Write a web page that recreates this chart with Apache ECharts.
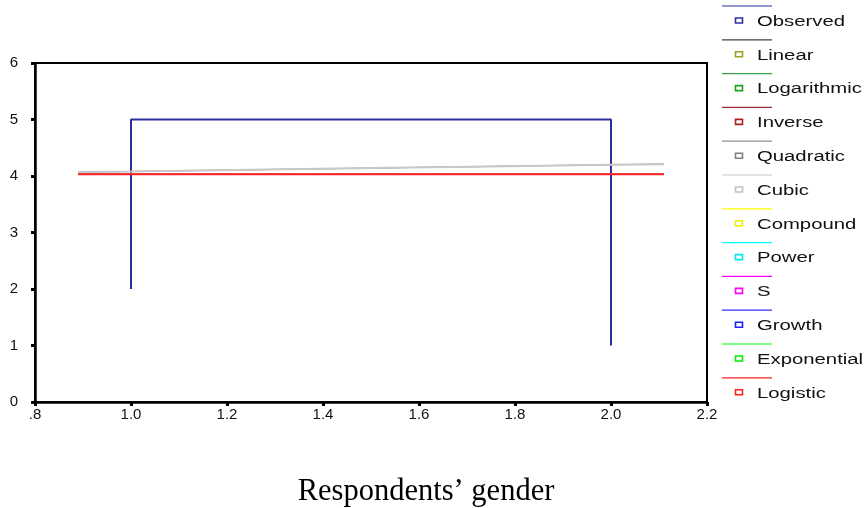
<!DOCTYPE html>
<html>
<head>
<meta charset="utf-8">
<script src="https://cdn.jsdelivr.net/npm/echarts@6/dist/echarts.min.js"></script>
<style>
  html, body { margin: 0; padding: 0; background: #fff; }
  #chart { width: 866px; height: 508px; }
</style>
</head>
<body>
<div id="chart"></div>
<script>
// data
const observedX = [1.0, 1.0, 2.0, 2.0]
const observedY = [2, 5, 5, 1]
const fitX = [0.89, 1.0, 1.25, 1.5, 1.75, 2.0, 2.11]
const cubicY = [4.07, 4.08, 4.11, 4.14, 4.17, 4.2, 4.21]
const logisticY = [4.03, 4.03, 4.03, 4.03, 4.03, 4.03, 4.03]
const xTicks = [0.8, 1.0, 1.2, 1.4, 1.6, 1.8, 2.0, 2.2]
const yTicks = [0, 1, 2, 3, 4, 5, 6]

const names = ['Observed', 'Linear', 'Logarithmic', 'Inverse', 'Quadratic', 'Cubic',
  'Compound', 'Power', 'S', 'Growth', 'Exponential', 'Logistic']
const lineColors = ['#2e2e9e', '#404040', '#40a040', '#a03030', '#909090', '#c8c8c8',
  '#ffff00', '#00ffff', '#ff00ff', '#3030ff', '#00ff00', '#ff2020']
const markColors = ['#2e2e9e', '#a0a020', '#20a020', '#b02020', '#808080', '#c0c0c0',
  '#f0f000', '#00e8f0', '#ff00ff', '#2020ff', '#00ee00', '#ff2020']

// which fitted values each curve sits on (they overlap in the picture)
const fitValues = {
  Linear: cubicY, Logarithmic: logisticY, Inverse: logisticY, Quadratic: cubicY, Cubic: cubicY,
  Compound: logisticY, Power: logisticY, S: logisticY, Growth: logisticY,
  Exponential: logisticY, Logistic: logisticY
}
// only the topmost curves are visible, the rest sit underneath
const visibleCurves = ['Observed', 'Cubic', 'Logistic']

const zip = (xs, ys) => xs.map((x, i) => [x, ys[i]])

const series = names.map((name, i) => ({
  name,
  type: 'line',
  data: name === 'Observed' ? zip(observedX, observedY) : zip(fitX, fitValues[name]),
  showSymbol: false,
  silent: true,
  lineStyle: { color: lineColors[i], width: visibleCurves.includes(name) ? 2 : 0.8 },
  itemStyle: { color: lineColors[i] }
}))

// legend drawn by hand: colored line, hollow square, stretched label
const legendY = 20.5
const legendStep = 33.8
const graphics = []
names.forEach((name, i) => {
  const y = legendY + i * legendStep
  graphics.push({
    type: 'line',
    shape: { x1: 722, y1: y - 14.5, x2: 772, y2: y - 14.5 },
    style: { stroke: lineColors[i], lineWidth: 1.2 }
  })
  graphics.push({
    type: 'rect',
    shape: { x: 735.5, y: y - 2.5, width: 7, height: 5 },
    style: { fill: '#fff', stroke: markColors[i], lineWidth: 1.6 }
  })
  graphics.push({
    type: 'text',
    x: 757,
    y: y + 1.5,
    scaleX: 1.45,
    style: {
      text: name,
      fill: '#111',
      font: '14px "Liberation Sans", Arial',
      verticalAlign: 'middle'
    }
  })
})

const labelFont = { fontFamily: '"Liberation Sans", Arial, sans-serif', fontSize: 15, color: '#111' }

const chart = echarts.init(document.getElementById('chart'))
chart.setOption({
  animation: false,
  backgroundColor: '#fff',
  grid: {
    left: 35, top: 63, width: 672, height: 339,
    outerBoundsMode: 'none',
    show: true, borderColor: '#000', borderWidth: 2
  },
  xAxis: {
    type: 'value',
    min: 0.8,
    max: 2.2,
    interval: 0.2,
    name: 'Respondents’ gender',
    nameLocation: 'middle',
    nameGap: 74,
    nameTextStyle: { fontFamily: '"Liberation Serif", "Times New Roman", serif', fontSize: 30.5, color: '#000', padding: [0, 0, 0, 110] },
    axisLine: { show: true, lineStyle: { color: '#000', width: 2.5 } },
    axisTick: { show: true, length: 4, lineStyle: { color: '#000', width: 3 } },
    splitLine: { show: false },
    axisLabel: {
      ...labelFont,
      margin: 5,
      formatter: v => {
        const t = xTicks.find(k => Math.abs(k - v) < 1e-6)
        if (t === undefined) return ''
        const s = t.toFixed(1)
        return s.startsWith('0') ? s.slice(1) : s
      }
    }
  },
  yAxis: {
    type: 'value',
    min: 0,
    max: 6,
    interval: 1,
    axisLine: { show: true, lineStyle: { color: '#000', width: 2.5 } },
    axisTick: { show: true, length: 4, lineStyle: { color: '#000', width: 3 } },
    splitLine: { show: false },
    axisLabel: {
      ...labelFont,
      margin: 17,
      formatter: v => (yTicks.includes(v) ? String(v) : '')
    }
  },
  graphic: graphics,
  series
})
</script>
</body>
</html>
